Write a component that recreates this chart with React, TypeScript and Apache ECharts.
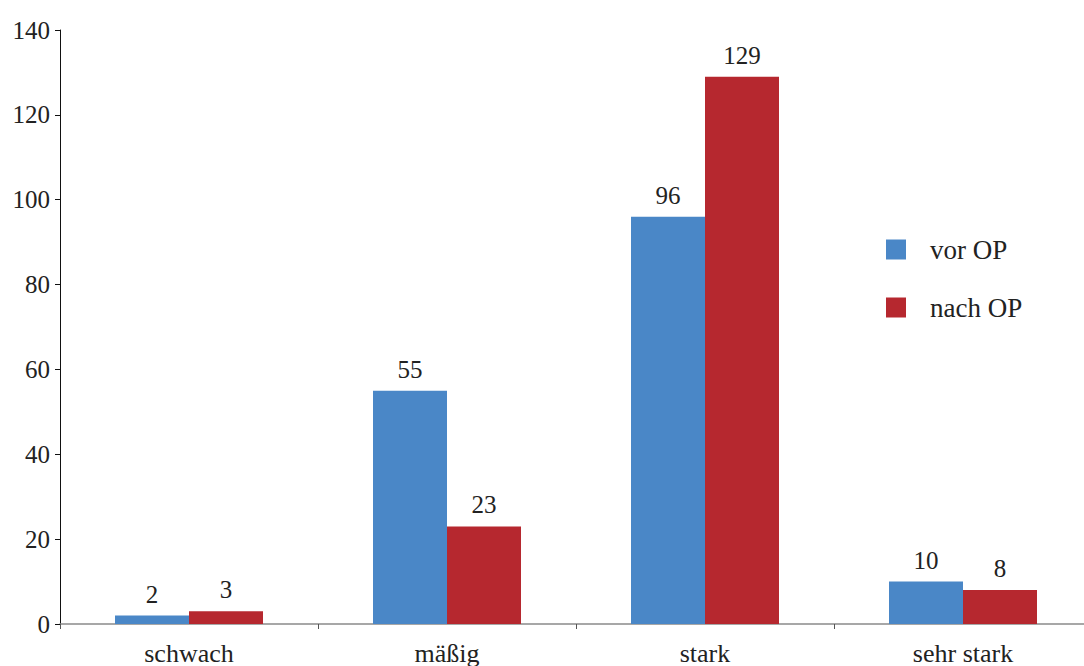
import React, { useEffect, useRef } from "react";
import * as echarts from "echarts";

const categories = ["schwach", "mäßig", "stark", "sehr stark"];
const vorOP = [2, 55, 96, 10];
const nachOP = [3, 23, 129, 8];
const seriesNames = ["vor OP", "nach OP"];

const FONT = "Liberation Serif";
const TXT = "#222222";

export default function App() {
  const ref = useRef<HTMLDivElement>(null);
  useEffect(() => {
    if (!ref.current) return;
    const chart = echarts.init(ref.current, undefined, { renderer: "svg" });
    const label = {
      show: true,
      position: "top",
      distance: 9,
      fontFamily: FONT,
      fontSize: 25,
      color: TXT,
    };
    chart.setOption({
      animation: false,
      backgroundColor: "#ffffff",
      textStyle: { fontFamily: FONT },
      grid: { left: 60, top: 30, right: 0, bottom: 41, containLabel: false },
      legend: {
        orient: "vertical",
        left: 886,
        top: 236,
        itemWidth: 20,
        itemHeight: 20,
        itemGap: 31,
        padding: 0,
        icon: "rect",
        textStyle: { fontFamily: FONT, fontSize: 27, color: TXT, padding: [0, 0, 0, 19] },
        data: seriesNames,
      },
      xAxis: {
        type: "category",
        data: categories,
        axisLine: { show: true, lineStyle: { color: "#8a8a8a", width: 1.5 } },
        axisTick: { show: true, length: 5, lineStyle: { color: "#555555" } },
        axisLabel: { fontFamily: FONT, fontSize: 26, color: TXT, margin: 16 },
        splitLine: { show: false },
      },
      yAxis: {
        type: "value",
        min: 0,
        max: 140,
        interval: 20,
        axisLine: { show: true, lineStyle: { color: "#111111", width: 1 } },
        axisTick: { show: true, length: 5, lineStyle: { color: "#111111" } },
        axisLabel: { fontFamily: FONT, fontSize: 25, color: TXT, margin: 10 },
        splitLine: { show: false },
      },
      series: [
        {
          name: seriesNames[0],
          type: "bar",
          data: vorOP,
          barWidth: 74,
          barGap: "0%",
          itemStyle: { color: "#4A87C7" },
          label,
        },
        {
          name: seriesNames[1],
          type: "bar",
          data: nachOP,
          barWidth: 74,
          barGap: "0%",
          itemStyle: { color: "#B6282F" },
          label,
        },
      ],
    });
    return () => chart.dispose();
  }, []);
  return (
    <div
      ref={ref}
      style={{ position: "fixed", left: 0, top: 0, width: 1092, height: 666, background: "#fff" }}
    />
  );
}
